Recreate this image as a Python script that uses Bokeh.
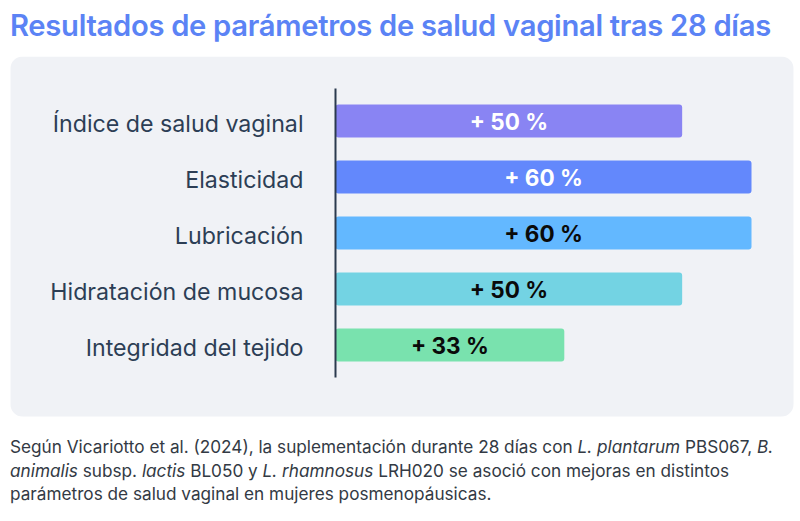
from bokeh.plotting import figure
from bokeh.models import Range1d, BoxAnnotation, Div
from bokeh.layouts import column
from bokeh.core.properties import value
from bokeh.embed import file_html
from bokeh.resources import INLINE

# ---------------- data ----------------
title_text = "Resultados de parámetros de salud vaginal tras 28 días"
categories = [
    "Índice de salud vaginal",
    "Elasticidad",
    "Lubricación",
    "Hidratación de mucosa",
    "Integridad del tejido",
]
values = [50, 60, 60, 50, 33]
bar_colors = ["#8984F3", "#6388FC", "#63B8FF", "#73D3E3", "#79E2AE"]
value_label_colors = ["#FFFFFF", "#FFFFFF", "#0A0A0A", "#0A0A0A", "#0A0A0A"]
value_labels = [f"+ {v} %" for v in values]
footnote_lines = [
    "Según Vicariotto et al. (2024), la suplementación durante 28 días con <i>L. plantarum</i> PBS067, <i>B.</i>",
    "<i>animalis</i> subsp. <i>lactis</i> BL050 y <i>L. rhamnosus</i> LRH020 se asoció con mejoras en distintos",
    "parámetros de salud vaginal en mujeres posmenopáusicas.",
]

FONT = "Inter"

# ---------------- geometry ----------------
W = 800
PX_PER_UNIT = 416 / 60.0
ORIGIN_PX = 335.0
PH = 370
ROW = 56.0
FIRST = 64.5

x_start = -ORIGIN_PX / PX_PER_UNIT
x_end = (W - ORIGIN_PX) / PX_PER_UNIT
y_top = -FIRST / ROW
y_bottom = (PH - FIRST) / ROW

idx = list(range(len(categories)))

p = figure(
    width=W, height=PH,
    x_range=Range1d(x_start, x_end),
    y_range=Range1d(y_bottom, y_top),
    output_backend="svg", toolbar_location=None,
    x_axis_location=None, y_axis_location=None,
    min_border=0,
)
p.grid.visible = False
p.outline_line_color = None
p.background_fill_color = "white"
p.border_fill_color = "white"

panel = BoxAnnotation(
    left=10, right=793, top=0, bottom=360,
    left_units="canvas", right_units="canvas", top_units="canvas", bottom_units="canvas",
    fill_color="#F0F2F6", fill_alpha=1.0, line_color=None,
    border_radius=12, level="underlay",
)
p.add_layout(panel)

p.hbar(y=idx, left=0, right=values, height=0.59, fill_color=bar_colors,
       line_color=None, border_radius=3)

p.segment(x0=[0], y0=[idx[0] - 0.58], x1=[0], y1=[idx[-1] + 0.58],
          line_color="#2B3A4E", line_width=2)

p.text(x=[-32 / PX_PER_UNIT] * len(idx), y=[i + 0.05 for i in idx], text=categories,
       text_align="right", text_baseline="middle",
       text_font=value(FONT), text_font_size="23.2px", text_color="#2C3E55")

p.text(x=[v / 2 for v in values], y=idx, text=value_labels,
       text_align="center", text_baseline="middle",
       text_font=value(FONT), text_font_size="22.5px", text_font_style="bold",
       text_color=value_label_colors)

title_div = Div(
    text=f'<div style="font-family:{FONT};font-size:29.2px;font-weight:600;color:#5B83F5;'
         f'padding:5px 0 0 10px;white-space:nowrap;letter-spacing:-0.3px;">{title_text}</div>',
    width=W, height=56, margin=0,
)

foot_div = Div(
    text=f'<div style="font-family:{FONT};font-size:17.2px;color:#333A44;line-height:23.5px;'
         f'padding:9px 0 0 10px;white-space:nowrap;">' + "<br>".join(footnote_lines) + "</div>",
    width=W, height=521 - 56 - PH, margin=0,
)

layout = column(title_div, p, foot_div, spacing=0, margin=0)

open("out.html", "w").write(file_html(layout, INLINE))
